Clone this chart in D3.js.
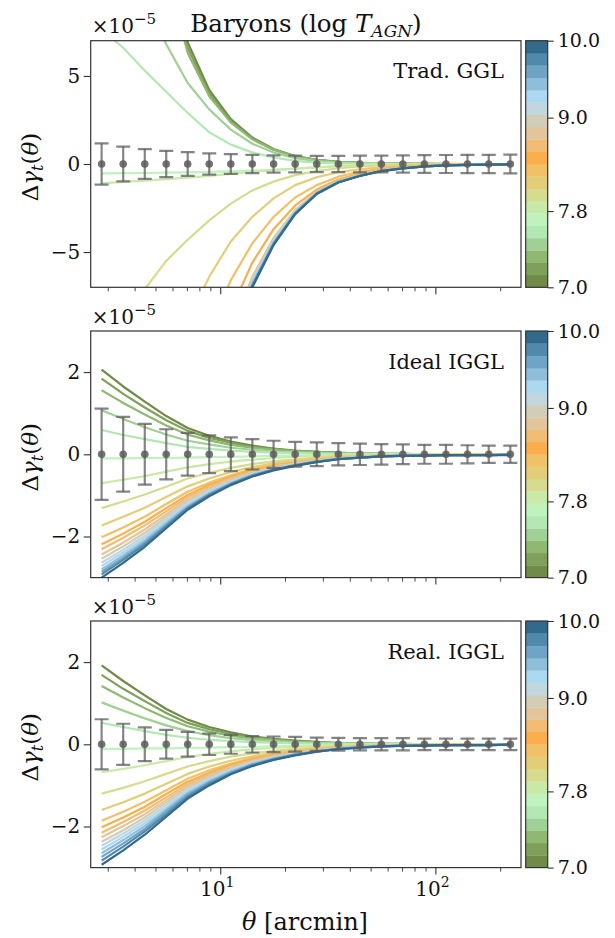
<!DOCTYPE html>
<html>
<head>
<meta charset="utf-8">
<style>
  body { margin: 0; background: #fff; }
  svg text { font-family: "DejaVu Serif", "Liberation Serif", serif; fill: #111; }
</style>
</head>
<body>
<div id="chart"></div>
<script src="https://d3js.org/d3.v7.min.js"></script>
<script>
// angular bins (arcmin)
const theta = [2.81, 3.54, 4.46, 5.61, 7.06, 8.89, 11.2, 14.1, 17.7, 22.3,
               28.1, 35.4, 44.6, 56.1, 70.6, 88.9, 112, 141, 177, 223];

// colour of each log T_AGN bin, from 7.0 (bottom) to 10.0 (top)
const binColors = ['#6f8b47', '#7fa05a', '#8fb872', '#a0d096', '#b3e8b4',
                   '#bff2bd', '#c9e9a9', '#d6db8f', '#e3cd79', '#f0c167',
                   '#faae4c', '#f1bc74', '#e2c59a', '#d2cdb7', '#c2d6df',
                   '#acd8f1', '#8fbedb', '#70a4c6', '#5089ab', '#33698a'];
const cbarTicks = [7.0, 7.8, 9.0, 10.0];
const cbarTickLabels = ['7.0', '7.8', '9.0', '10.0'];
const cbarTickBin = [0, 6.18, 13.76, 20];   // where each tick sits along the bins

const panelNames = ['Trad. GGL', 'Ideal IGGL', 'Real. IGGL'];
const yLims = [[-7, 7], [-3, 3], [-3, 3]];
const yTicks = [[-5, 0, 5], [-2, 0, 2], [-2, 0, 2]];

// data points (x1e-5) and errors
const meanAll = [0, 0, 0, 0, 0, 0, 0, 0, 0, 0, 0, 0, 0, 0, 0, 0, 0, 0, 0, 0];
const errTrad  = [1.17, 0.99, 0.85, 0.75, 0.67, 0.6, 0.56, 0.52, 0.49, 0.47, 0.46, 0.46, 0.47, 0.48, 0.49, 0.5, 0.51, 0.52, 0.52, 0.53];
const errIdeal = [1.11, 0.91, 0.74, 0.61, 0.52, 0.46, 0.41, 0.37, 0.33, 0.3, 0.29, 0.27, 0.26, 0.25, 0.24, 0.23, 0.23, 0.22, 0.21, 0.21];
const errReal  = [0.61, 0.5, 0.41, 0.35, 0.3, 0.26, 0.23, 0.2, 0.19, 0.18, 0.16, 0.155, 0.15, 0.15, 0.15, 0.14, 0.14, 0.14, 0.14, 0.14];

// model curves (x1e-5), one per bin, 7.0 -> 10.0
const curvesTrad = [
  [42, 30, 20, 12.3, 6.9, 4.2, 2.55, 1.5, 0.85, 0.45, 0.24, 0.125, 0.065, 0.035, 0.02, 0.01, 0.005, 0, 0, 0],
  [40, 28, 18.5, 11.6, 6.6, 4.0, 2.45, 1.45, 0.82, 0.44, 0.23, 0.12, 0.06, 0.03, 0.02, 0.01, 0, 0, 0, 0],
  [37, 26, 17, 11, 6.3, 3.85, 2.35, 1.4, 0.8, 0.43, 0.22, 0.115, 0.06, 0.03, 0.015, 0.01, 0, 0, 0, 0],
  [16, 12.5, 9.5, 6.8, 4.6, 3.1, 1.95, 1.15, 0.65, 0.33, 0.16, 0.08, 0.04, 0.02, 0.01, 0, 0, 0, 0, 0],
  [7.6, 6.6, 5.3, 4.1, 2.9, 1.8, 1.1, 0.66, 0.37, 0.18, 0.08, 0.035, 0.015, 0.005, 0, 0, 0, 0, 0, 0],
  [-0.53, -0.52, -0.51, -0.49, -0.47, -0.45, -0.42, -0.38, -0.33, -0.26, -0.19, -0.12, -0.07, -0.04, -0.02, -0.01, 0, 0, 0, 0],
  [-1.1, -1.02, -0.94, -0.86, -0.77, -0.67, -0.56, -0.44, -0.35, -0.27, -0.19, -0.12, -0.07, -0.04, -0.02, -0.01, 0, 0, 0, 0],
  [-11, -8.9, -7.1, -5.5, -4.3, -3.2, -2.25, -1.5, -1.0, -0.63, -0.4, -0.24, -0.13, -0.07, -0.035, -0.015, -0.01, 0, 0, 0],
  [-30, -23, -17, -12.5, -9, -6.4, -4.4, -3.0, -1.95, -1.2, -0.75, -0.47, -0.3, -0.18, -0.1, -0.06, -0.035, -0.02, -0.01, -0.01],
  [-45, -35, -26, -19, -13.5, -9.5, -6.6, -4.5, -3.0, -1.9, -1.2, -0.72, -0.44, -0.26, -0.15, -0.09, -0.05, -0.03, -0.02, -0.01],
  [-55, -43, -32, -24, -17, -12, -8.3, -5.6, -3.7, -2.35, -1.45, -0.88, -0.54, -0.32, -0.19, -0.11, -0.06, -0.04, -0.02, -0.015],
  [-65, -50, -37, -27, -20, -14, -9.6, -6.4, -4.2, -2.65, -1.6, -0.97, -0.6, -0.36, -0.21, -0.12, -0.07, -0.04, -0.025, -0.015],
  [-74, -55, -41, -30, -22, -15.2, -9.9, -6.45, -4.23, -2.62, -1.56, -0.97, -0.63, -0.37, -0.23, -0.13, -0.074, -0.046, -0.028, -0.018],
  [-75, -56, -42, -31, -22.6, -15.5, -10.2, -6.58, -4.32, -2.68, -1.6, -0.99, -0.64, -0.38, -0.235, -0.13, -0.075, -0.047, -0.028, -0.019],
  [-76, -57, -43, -31.4, -22.8, -15.7, -10.3, -6.65, -4.37, -2.71, -1.62, -1.0, -0.65, -0.38, -0.24, -0.133, -0.076, -0.048, -0.029, -0.019],
  [-77, -58, -43, -31.7, -23, -15.8, -10.4, -6.72, -4.42, -2.74, -1.63, -1.01, -0.65, -0.38, -0.24, -0.134, -0.077, -0.048, -0.029, -0.019],
  [-78, -58, -44, -32, -23.3, -16, -10.5, -6.79, -4.46, -2.76, -1.65, -1.02, -0.66, -0.39, -0.24, -0.136, -0.078, -0.049, -0.029, -0.019],
  [-78, -59, -44, -32.3, -23.5, -16.2, -10.6, -6.86, -4.51, -2.79, -1.67, -1.03, -0.67, -0.39, -0.245, -0.137, -0.078, -0.049, -0.03, -0.02],
  [-79, -59, -45, -32.7, -23.8, -16.3, -10.7, -6.93, -4.55, -2.82, -1.68, -1.04, -0.67, -0.4, -0.25, -0.139, -0.079, -0.05, -0.03, -0.02],
  [-80, -60, -45, -33, -24, -16.5, -10.8, -7.0, -4.6, -2.85, -1.7, -1.05, -0.68, -0.4, -0.25, -0.14, -0.08, -0.05, -0.03, -0.02]
];

const curvesIdeal = [
  [2.06, 1.65, 1.28, 0.93, 0.64, 0.45, 0.31, 0.21, 0.14, 0.09, 0.06, 0.04, 0.02, 0.01, 0.01, 0, 0, 0, 0, 0],
  [1.84, 1.47, 1.14, 0.83, 0.57, 0.4, 0.28, 0.18, 0.13, 0.08, 0.06, 0.03, 0.02, 0.01, 0.01, 0, 0, 0, 0, 0],
  [1.56, 1.25, 0.97, 0.7, 0.48, 0.34, 0.23, 0.16, 0.11, 0.07, 0.05, 0.03, 0.02, 0.01, 0, 0, 0, 0, 0, 0],
  [1.07, 0.86, 0.66, 0.48, 0.33, 0.24, 0.16, 0.11, 0.07, 0.05, 0.03, 0.02, 0.01, 0.01, 0, 0, 0, 0, 0, 0],
  [0.59, 0.47, 0.37, 0.27, 0.18, 0.13, 0.09, 0.06, 0.04, 0.03, 0.02, 0.01, 0.01, 0, 0, 0, 0, 0, 0, 0],
  [-0.1, -0.1, -0.09, -0.09, -0.08, -0.07, -0.06, -0.05, -0.04, -0.03, -0.02, -0.015, -0.01, -0.01, -0.005, 0, 0, 0, 0, 0],
  [-0.7, -0.62, -0.53, -0.42, -0.32, -0.24, -0.18, -0.13, -0.09, -0.06, -0.04, -0.03, -0.02, -0.01, -0.01, -0.01, -0.01, 0, 0, 0],
  [-1.31, -1.15, -0.98, -0.79, -0.59, -0.45, -0.33, -0.24, -0.17, -0.12, -0.08, -0.05, -0.04, -0.02, -0.02, -0.01, -0.01, -0.01, -0.01, -0.01],
  [-1.73, -1.52, -1.3, -1.04, -0.78, -0.59, -0.43, -0.31, -0.22, -0.16, -0.11, -0.07, -0.05, -0.03, -0.02, -0.02, -0.01, -0.01, -0.01, -0.01],
  [-2.02, -1.78, -1.52, -1.21, -0.91, -0.69, -0.51, -0.36, -0.26, -0.19, -0.13, -0.08, -0.05, -0.04, -0.02, -0.02, -0.02, -0.01, -0.01, -0.01],
  [-2.19, -1.93, -1.64, -1.31, -0.99, -0.74, -0.55, -0.39, -0.28, -0.2, -0.14, -0.09, -0.06, -0.04, -0.03, -0.02, -0.02, -0.02, -0.01, -0.01],
  [-2.31, -2.03, -1.73, -1.39, -1.04, -0.79, -0.58, -0.42, -0.3, -0.21, -0.15, -0.09, -0.06, -0.04, -0.03, -0.02, -0.02, -0.02, -0.01, -0.01],
  [-2.44, -2.15, -1.83, -1.46, -1.1, -0.83, -0.61, -0.44, -0.32, -0.22, -0.15, -0.1, -0.07, -0.04, -0.03, -0.02, -0.02, -0.02, -0.01, -0.01],
  [-2.54, -2.24, -1.91, -1.52, -1.14, -0.86, -0.64, -0.46, -0.33, -0.23, -0.16, -0.1, -0.07, -0.05, -0.03, -0.02, -0.02, -0.02, -0.02, -0.01],
  [-2.64, -2.32, -1.98, -1.58, -1.19, -0.9, -0.66, -0.48, -0.34, -0.24, -0.17, -0.11, -0.07, -0.05, -0.03, -0.02, -0.02, -0.02, -0.02, -0.01],
  [-2.72, -2.39, -2.04, -1.63, -1.22, -0.92, -0.68, -0.49, -0.35, -0.25, -0.17, -0.11, -0.07, -0.05, -0.03, -0.02, -0.02, -0.02, -0.02, -0.01],
  [-2.8, -2.46, -2.1, -1.68, -1.26, -0.95, -0.7, -0.5, -0.36, -0.26, -0.18, -0.11, -0.08, -0.05, -0.03, -0.03, -0.02, -0.02, -0.02, -0.01],
  [-2.86, -2.52, -2.15, -1.72, -1.29, -0.97, -0.72, -0.51, -0.37, -0.26, -0.18, -0.11, -0.08, -0.05, -0.03, -0.03, -0.02, -0.02, -0.02, -0.01],
  [-2.92, -2.57, -2.19, -1.75, -1.31, -0.99, -0.73, -0.53, -0.38, -0.27, -0.18, -0.12, -0.08, -0.05, -0.04, -0.03, -0.02, -0.02, -0.02, -0.01],
  [-3.0, -2.64, -2.25, -1.8, -1.35, -1.02, -0.75, -0.54, -0.39, -0.28, -0.19, -0.12, -0.08, -0.05, -0.04, -0.03, -0.02, -0.02, -0.02, -0.02]
];

const curvesReal = [
  [1.92, 1.54, 1.19, 0.86, 0.6, 0.42, 0.29, 0.19, 0.13, 0.09, 0.06, 0.03, 0.02, 0.01, 0.01, 0, 0, 0, 0, 0],
  [1.69, 1.35, 1.05, 0.76, 0.52, 0.37, 0.25, 0.17, 0.12, 0.08, 0.05, 0.03, 0.02, 0.01, 0.01, 0, 0, 0, 0, 0],
  [1.42, 1.14, 0.88, 0.64, 0.44, 0.31, 0.21, 0.14, 0.1, 0.06, 0.04, 0.03, 0.01, 0.01, 0, 0, 0, 0, 0, 0],
  [1.02, 0.82, 0.63, 0.46, 0.32, 0.22, 0.15, 0.1, 0.07, 0.05, 0.03, 0.02, 0.01, 0.01, 0, 0, 0, 0, 0, 0],
  [0.52, 0.42, 0.32, 0.23, 0.16, 0.11, 0.08, 0.05, 0.04, 0.02, 0.02, 0.01, 0.01, 0, 0, 0, 0, 0, 0, 0],
  [-0.11, -0.11, -0.1, -0.1, -0.09, -0.08, -0.07, -0.06, -0.05, -0.04, -0.03, -0.02, -0.01, -0.01, -0.005, 0, 0, 0, 0, 0],
  [-0.68, -0.6, -0.51, -0.41, -0.31, -0.23, -0.17, -0.12, -0.09, -0.06, -0.04, -0.03, -0.02, -0.01, -0.01, -0.01, -0.01, 0, 0, 0],
  [-1.2, -1.06, -0.9, -0.72, -0.54, -0.41, -0.3, -0.22, -0.16, -0.11, -0.08, -0.05, -0.03, -0.02, -0.01, -0.01, -0.01, -0.01, -0.01, -0.01],
  [-1.6, -1.41, -1.2, -0.96, -0.72, -0.54, -0.4, -0.29, -0.21, -0.15, -0.1, -0.06, -0.04, -0.03, -0.02, -0.01, -0.01, -0.01, -0.01, -0.01],
  [-1.86, -1.64, -1.4, -1.12, -0.84, -0.63, -0.47, -0.33, -0.24, -0.17, -0.12, -0.07, -0.05, -0.03, -0.02, -0.02, -0.01, -0.01, -0.01, -0.01],
  [-2.02, -1.78, -1.52, -1.21, -0.91, -0.69, -0.51, -0.36, -0.26, -0.19, -0.13, -0.08, -0.05, -0.04, -0.02, -0.02, -0.02, -0.01, -0.01, -0.01],
  [-2.15, -1.89, -1.61, -1.29, -0.97, -0.73, -0.54, -0.39, -0.28, -0.2, -0.14, -0.09, -0.06, -0.04, -0.03, -0.02, -0.02, -0.02, -0.01, -0.01],
  [-2.26, -1.99, -1.7, -1.36, -1.02, -0.77, -0.57, -0.41, -0.29, -0.21, -0.14, -0.09, -0.06, -0.04, -0.03, -0.02, -0.02, -0.02, -0.01, -0.01],
  [-2.37, -2.09, -1.78, -1.42, -1.07, -0.81, -0.59, -0.43, -0.31, -0.22, -0.15, -0.09, -0.06, -0.04, -0.03, -0.02, -0.02, -0.02, -0.01, -0.01],
  [-2.47, -2.17, -1.85, -1.48, -1.11, -0.84, -0.62, -0.44, -0.32, -0.23, -0.16, -0.1, -0.07, -0.04, -0.03, -0.02, -0.02, -0.02, -0.01, -0.01],
  [-2.56, -2.25, -1.92, -1.54, -1.15, -0.87, -0.64, -0.46, -0.33, -0.24, -0.16, -0.1, -0.07, -0.05, -0.03, -0.02, -0.02, -0.02, -0.02, -0.01],
  [-2.65, -2.33, -1.99, -1.59, -1.19, -0.9, -0.66, -0.48, -0.34, -0.24, -0.17, -0.11, -0.07, -0.05, -0.03, -0.02, -0.02, -0.02, -0.02, -0.01],
  [-2.74, -2.41, -2.06, -1.64, -1.23, -0.93, -0.69, -0.49, -0.36, -0.25, -0.17, -0.11, -0.07, -0.05, -0.03, -0.02, -0.02, -0.02, -0.02, -0.01],
  [-2.83, -2.49, -2.12, -1.7, -1.27, -0.96, -0.71, -0.51, -0.37, -0.26, -0.18, -0.11, -0.08, -0.05, -0.03, -0.03, -0.02, -0.02, -0.02, -0.01],
  [-2.93, -2.58, -2.2, -1.76, -1.32, -1.0, -0.73, -0.53, -0.38, -0.27, -0.18, -0.12, -0.08, -0.05, -0.04, -0.03, -0.02, -0.02, -0.02, -0.01]
];

const panels = [
  {name: panelNames[0], ylim: yLims[0], ticks: yTicks[0], curves: curvesTrad, err: errTrad},
  {name: panelNames[1], ylim: yLims[1], ticks: yTicks[1], curves: curvesIdeal, err: errIdeal},
  {name: panelNames[2], ylim: yLims[2], ticks: yTicks[2], curves: curvesReal, err: errReal}
];

const W = 615, H = 938;
const left = 90.7, right = 521, ph = 246.6;
const tops = [40.7, 331, 621];
const cbX = 525.7, cbW = 22;
const frameCol = '#333';
const errCol = '#5c5c5c';
const serif = '"DejaVu Serif", "Liberation Serif", serif';

const svg = d3.select('#chart').append('svg')
              .attr('width', W).attr('height', H);

const x = d3.scaleLog().domain([2.5, 250]).range([left, right]);
const majorX = [10, 100];
const minorX = [3, 4, 5, 6, 7, 8, 9, 20, 30, 40, 50, 60, 70, 80, 90, 200];
const fmtMinus = d => d < 0 ? '\u2212' + Math.abs(d) : String(d);

// title
const title = svg.append('text').attr('x', 306).attr('y', 31.5)
                 .attr('text-anchor', 'middle').style('font-size', '24.5px');
title.append('tspan').text('Baryons (log ');
title.append('tspan').style('font-style', 'italic').text('T');
title.append('tspan').style('font-style', 'italic').style('font-size', '17px').attr('dy', 5).text('AGN');
title.append('tspan').attr('dy', -5).text(')');

panels.forEach((p, pi) => {
  const top = tops[pi];
  const y = d3.scaleLinear().domain(p.ylim).range([top + ph, top]);
  const g = svg.append('g');

  g.append('clipPath').attr('id', 'clip' + pi)
   .append('rect').attr('x', left).attr('y', top).attr('width', right - left).attr('height', ph);

  const plot = g.append('g').attr('clip-path', `url(#clip${pi})`);
  const line = d3.line().x((d, i) => x(theta[i])).y(d => y(d));

  // model curves
  plot.selectAll('path.curve')
      .data(p.curves)
      .enter()
      .append('path')
      .attr('class', 'curve')
      .attr('d', line)
      .attr('fill', 'none')
      .attr('stroke', (d, k) => binColors[k])
      .attr('stroke-width', 2.2)
      .attr('stroke-linejoin', 'round');

  // error bars
  const eb = plot.append('g');
  theta.forEach((t, i) => {
    const cx = x(t), m = meanAll[i], e = p.err[i];
    eb.append('line').attr('x1', cx).attr('x2', cx).attr('y1', y(m - e)).attr('y2', y(m + e))
      .attr('stroke', errCol).attr('stroke-width', 2.2).attr('stroke-opacity', 0.75);
    [m - e, m + e].forEach(v => {
      eb.append('line').attr('x1', cx - 7).attr('x2', cx + 7).attr('y1', y(v)).attr('y2', y(v))
        .attr('stroke', errCol).attr('stroke-width', 2.2).attr('stroke-opacity', 0.75);
    });
    eb.append('circle').attr('cx', cx).attr('cy', y(m)).attr('r', 3.8)
      .attr('fill', errCol).attr('fill-opacity', 0.85);
  });

  // frame
  g.append('rect').attr('x', left).attr('y', top).attr('width', right - left).attr('height', ph)
   .attr('fill', 'none').attr('stroke', frameCol).attr('stroke-width', 1.2);

  // y axis
  const ya = g.append('g').attr('transform', `translate(${left},0)`)
              .call(d3.axisLeft(y).tickValues(p.ticks).tickSize(7).tickPadding(3.5).tickFormat(fmtMinus));
  ya.attr('font-family', serif).attr('font-size', 20);
  ya.select('.domain').remove();
  ya.selectAll('line').attr('stroke', frameCol).attr('stroke-width', 1.1);
  ya.selectAll('text').attr('fill', '#111');

  // x axis
  const xa = g.append('g').attr('transform', `translate(0,${top + ph})`)
              .call(d3.axisBottom(x).tickValues(majorX).tickSize(7).tickFormat(''));
  xa.select('.domain').remove();
  xa.selectAll('line').attr('stroke', frameCol).attr('stroke-width', 1.1);
  const xm = g.append('g').attr('transform', `translate(0,${top + ph})`)
              .call(d3.axisBottom(x).tickValues(minorX).tickSize(4).tickFormat(''));
  xm.select('.domain').remove();
  xm.selectAll('line').attr('stroke', frameCol).attr('stroke-width', 0.9);

  if (pi === 2) {
    majorX.forEach((v, j) => {
      const t = g.append('text').attr('x', x(v) - 3).attr('y', top + ph + 28)
                 .attr('text-anchor', 'middle').style('font-size', '20px');
      t.append('tspan').text('10');
      t.append('tspan').attr('dy', -9).style('font-size', '14px').text(String(j + 1));
    });
  }

  // offset text
  const off = g.append('text').attr('x', left + 1).attr('y', top - 7.5).style('font-size', '20px');
  off.append('tspan').text('\u00d710');
  off.append('tspan').attr('dy', -9).style('font-size', '15px').text('\u22125');

  // panel label
  g.append('text').attr('x', 504).attr('y', top + 37.6).attr('text-anchor', 'end')
   .style('font-size', '21px').text(p.name);

  // y label
  const yl = g.append('text').attr('transform', `translate(38,${top + ph / 2 + 3}) rotate(-90)`)
              .attr('text-anchor', 'middle').style('font-size', '23px');
  yl.append('tspan').text('\u0394');
  yl.append('tspan').style('font-style', 'italic').text('\u03b3');
  yl.append('tspan').style('font-style', 'italic').style('font-size', '16px').attr('dy', 5).text('t');
  yl.append('tspan').attr('dy', -5).text('(');
  yl.append('tspan').style('font-style', 'italic').text('\u03b8');
  yl.append('tspan').text(')');

  // colorbar
  const cb = d3.scaleLinear().domain([0, binColors.length]).range([top + ph, top]);
  g.selectAll('rect.bin')
   .data(binColors)
   .enter()
   .append('rect')
   .attr('class', 'bin')
   .attr('x', cbX).attr('width', cbW)
   .attr('y', (d, i) => cb(i + 1)).attr('height', (d, i) => cb(i) - cb(i + 1) + 0.3)
   .attr('fill', d => d);
  g.append('rect').attr('x', cbX).attr('y', top).attr('width', cbW).attr('height', ph)
   .attr('fill', 'none').attr('stroke', frameCol).attr('stroke-width', 1.2);
  const cbVal = d3.scaleLinear().domain(cbarTicks).range(cbarTickBin.map(b => cb(b)));
  const ca = g.append('g').attr('transform', `translate(${cbX + cbW},0)`)
              .call(d3.axisRight(cbVal).tickValues(cbarTicks).tickSize(6).tickPadding(4)
                      .tickFormat((d, i) => cbarTickLabels[i]));
  ca.attr('font-family', serif).attr('font-size', 19);
  ca.select('.domain').remove();
  ca.selectAll('line').attr('stroke', frameCol).attr('stroke-width', 1.1);
  ca.selectAll('text').attr('fill', '#111');
});

// x label
const xl = svg.append('text').attr('x', 305).attr('y', 930)
              .attr('text-anchor', 'middle').style('font-size', '24px');
xl.append('tspan').style('font-style', 'italic').text('\u03b8');
xl.append('tspan').text(' [arcmin]');
</script>
</body>
</html>
